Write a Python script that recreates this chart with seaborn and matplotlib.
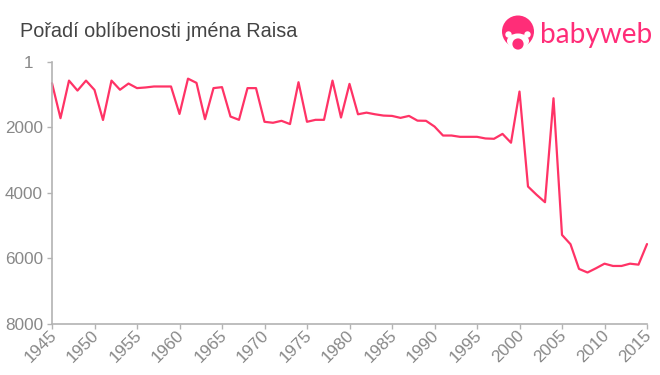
import matplotlib
matplotlib.use("Agg")
import matplotlib.pyplot as plt
from matplotlib.patches import Circle, Ellipse
from matplotlib.transforms import ScaledTranslation
import pandas as pd
import seaborn as sns

years = list(range(1945, 2016))
ranks = [650, 1720, 570, 875, 570, 855, 1775, 570, 850, 660,
         800, 780, 750, 750, 750, 1590, 510, 640, 1750, 800,
         770, 1670, 1770, 800, 800, 1830, 1860, 1800, 1900, 620,
         1830, 1770, 1770, 570, 1700, 670, 1600, 1550, 1600, 1640,
         1650, 1710, 1650, 1795, 1800, 1975, 2250, 2250, 2290, 2290,
         2290, 2340, 2350, 2200, 2470, 905, 3810, 4060, 4290, 1110,
         5290, 5575, 6330, 6440, 6310, 6170, 6240, 6240, 6170, 6200,
         5570]
y_ticks = [1, 2000, 4000, 6000, 8000]
x_ticks = list(range(1945, 2016, 5))
title = "Pořadí oblíbenosti jména Raisa"
brand = "babyweb"

W, H = 660, 375
PINK = "#ff3366"
LOGO = "#ff2d78"
GREY = "#b3b3b3"
TEXT = "#888888"

sns.set_theme(style="white")
plt.rcParams["font.family"] = ["Liberation Sans", "DejaVu Sans"]

fig = plt.figure(figsize=(W / 100, H / 100), dpi=100, facecolor="white")
ax = fig.add_axes([52 / W, 1 - 323.5 / H, 595 / W, 261.5 / H])

df = pd.DataFrame({"year": years, "rank": ranks})
sns.lineplot(data=df, x="year", y="rank", color=PINK, linewidth=1.6, ax=ax,
             errorbar=None, clip_on=False)

ax.set_xlim(1945, 2015)
ax.set_ylim(8000, 1)
ax.set_xlabel("")
ax.set_ylabel("")
ax.set_xticks(x_ticks)
ax.set_xticklabels([str(v) for v in x_ticks], rotation=45, ha="right",
                   rotation_mode="anchor")
ax.set_yticks(y_ticks)
ax.set_yticklabels([str(v) for v in y_ticks])
ax.tick_params(axis="both", length=3.5, width=1.0, color=GREY, labelcolor=TEXT,
               labelsize=12.3, pad=3, bottom=True, left=True)
ax.tick_params(axis="x", pad=0)
sns.despine(ax=ax)
for side in ("left", "bottom"):
    ax.spines[side].set_color(GREY)
    ax.spines[side].set_linewidth(1.2)

# Nudges in pixels to match the label placement of the reference
px = fig.dpi_scale_trans
for label in ax.get_xticklabels():
    label.set_transform(label.get_transform() + ScaledTranslation(-3 / 100, 1 / 100, px))
first = ax.get_yticklabels()[0]
first.set_transform(first.get_transform() + ScaledTranslation(-9.5 / 100, 0, px))

fig.text(20 / W, 1 - 37 / H, title, fontsize=14.3, color="#444444", ha="left",
         va="baseline")

# Brand logo, drawn in pixel coordinates of the figure
logo = fig.add_axes([0, 0, 1, 1], facecolor="none")
logo.set_xlim(0, W)
logo.set_ylim(H, 0)
logo.axis("off")
logo.add_patch(Circle((518, 31.5), 16, color=LOGO, lw=0))
logo.add_patch(Ellipse((518, 41), 22, 15, color="white", lw=0))
logo.add_patch(Circle((508.5, 34.5), 3.2, color="white", lw=0))
logo.add_patch(Circle((527.5, 34.5), 3.2, color="white", lw=0))
logo.add_patch(Circle((518, 44), 5.6, color=LOGO, lw=0))
logo.text(540, 43.5, brand, fontsize=20.2, color=LOGO, family="Lato",
          ha="left", va="baseline")

fig.savefig("out.png", dpi=100, facecolor="white")
